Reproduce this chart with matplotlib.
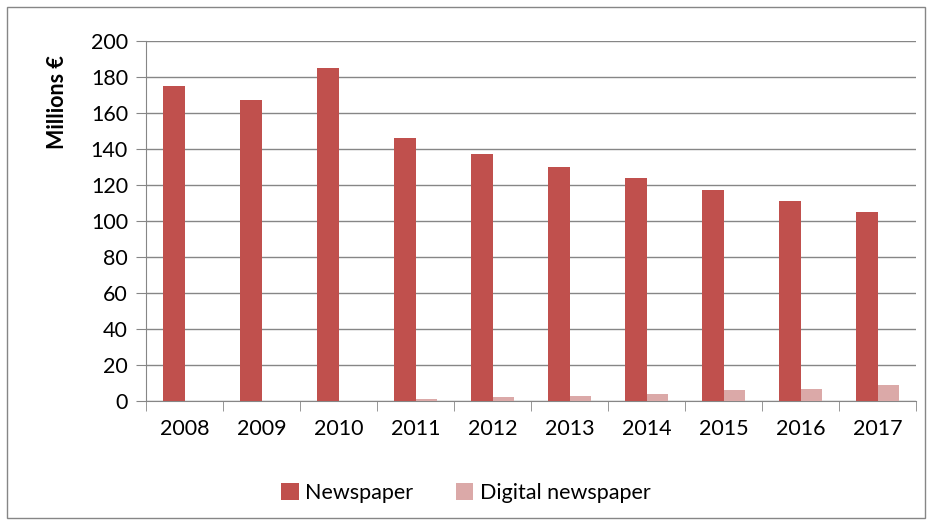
import numpy as np
import matplotlib.pyplot as plt
from matplotlib.patches import Rectangle

years = ['2008', '2009', '2010', '2011', '2012', '2013', '2014', '2015', '2016', '2017']
newspaper = [175, 167, 185, 146, 137, 130, 124, 117, 111, 105]
digital = [0, 0, 0, 1, 2, 2.8, 4, 6, 6.8, 9]

plt.rcParams['font.family'] = ['Lato', 'DejaVu Sans']
fs = 15.5

fig = plt.figure(figsize=(9.32, 5.25), dpi=100)
ax = fig.add_axes([146 / 932, 1 - 401 / 525, (916 - 146) / 932, 360 / 525])

# frame around the whole chart
fig.patches.append(Rectangle((7 / 932, 1 - 518 / 525), 918 / 932, 511 / 525,
                             transform=fig.transFigure, fill=False,
                             edgecolor='#868686', linewidth=1))

x = np.arange(len(years))
w = 0.28
ax.bar(x - w / 2, newspaper, width=w, color='#C0504D', label='Newspaper', zorder=3)
ax.bar(x + w / 2, digital, width=w, color='#DBA9A8', label='Digital newspaper', zorder=3)

ax.set_xlim(-0.5, len(years) - 0.5)
ax.set_ylim(0, 200)
ax.set_yticks(range(0, 201, 20))
ax.yaxis.grid(True, color='#868686', linewidth=1, zorder=0)
ax.set_axisbelow(True)

ax.set_xticks(x)
ax.set_xticklabels(years)
ax.set_xticks(np.arange(-0.5, len(years), 1), minor=True)
ax.tick_params(axis='x', which='major', length=0, pad=13, labelsize=fs)
ax.tick_params(axis='x', which='minor', length=7, color='#868686', direction='out')
ax.tick_params(axis='y', length=7, color='#868686', direction='out', pad=6, labelsize=fs)

for s in ['top', 'right']:
    ax.spines[s].set_visible(False)
for s in ['left', 'bottom']:
    ax.spines[s].set_color('#868686')

# axis title sits at the top, like the Excel original
fig.text(58 / 932, 1 - 102 / 525, 'Millions €', rotation=90, ha='center', va='center',
         fontsize=fs, fontweight='bold')

fig.legend(loc='center', bbox_to_anchor=(0.5, 1 - 493 / 525), ncol=2, frameon=False,
           fontsize=fs, handlelength=0.8, handleheight=0.8, handletextpad=0.3,
           columnspacing=2.0)

fig.savefig('out.png', dpi=100)
